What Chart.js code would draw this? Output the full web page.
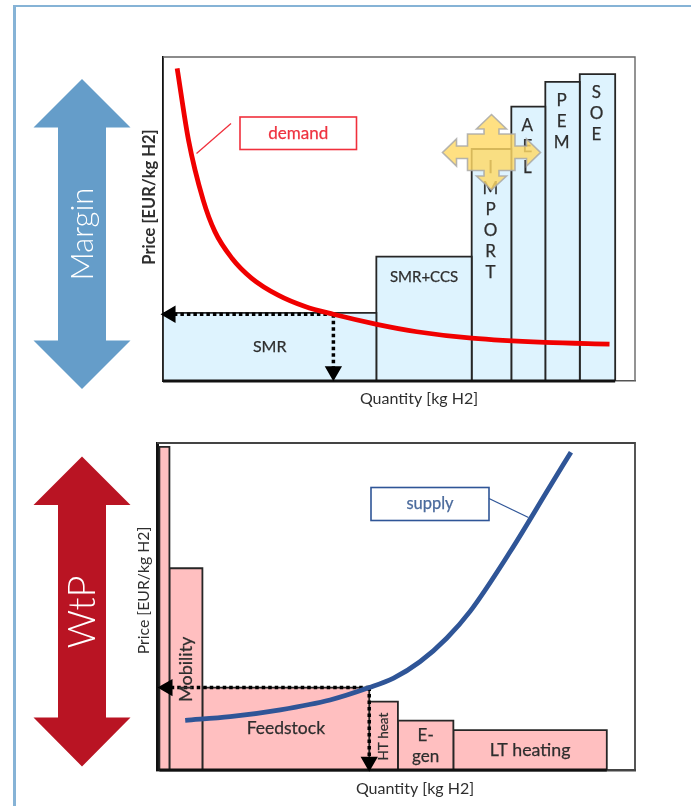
<!DOCTYPE html>
<html><head><meta charset="utf-8">
<script src="https://cdn.jsdelivr.net/npm/chart.js@4/dist/chart.umd.min.js"></script>
<style>
html,body{margin:0;padding:0;background:#fff;overflow:hidden;width:691px;height:806px}
#frame{position:absolute;left:13px;top:5px;width:700px;height:820px;border-left:3px solid #86b3d6;border-top:2px solid #86b3d6}
canvas{position:absolute;left:0;top:0}
</style></head><body>
<div id="frame"></div>
<canvas id="top" width="691" height="806"></canvas>
<canvas id="bottom" width="691" height="806"></canvas>
<script>
// ---- Merit order (top panel)
const supplyNames = ['SMR','SMR+CCS','IMPORT','AEL','PEM','SOE'];
const supplyEdges = [0, 45.2, 65.4, 73.8, 81, 88.3, 95.8];
const supplyPrices = [21, 38.4, 71.6, 84.7, 92.3, 94.7];
const demandQty = [3, 5.4, 8.5, 11, 14.6, 18.8, 24.4, 30.1, 36.1, 45.3, 53.8, 65.4, 80.9, 94.6];
const demandPrice = [96.5, 74.4, 55.9, 46.1, 37.9, 31.7, 26.5, 23, 20.6, 17.5, 15.2, 13.2, 11.9, 11.4];
const topEquilibrium = [36.1, 20.6];
// ---- Willingness to pay (bottom panel)
const useNames = ['', 'Mobility', 'Feedstock', 'HT heat', 'E-gen', 'LT heating'];
const useEdges = [0.5, 2.6, 9.5, 44.4, 50.4, 62, 94.1];
const usePrices = [98.8, 61.7, 25.2, 20.9, 15.1, 12.2];
const supplyQty = [5.9, 15.3, 25.8, 36.2, 44.4, 49.5, 55, 60.6, 65.5, 73.9, 82.2, 86.6];
const supplyPrice = [15.2, 16.3, 18.4, 21.4, 25.2, 28.1, 33.1, 40.3, 48.5, 66.8, 86.7, 97.2];
const bottomEquilibrium = [44.4, 25.2];
const priceTitle = 'Price [EUR/kg H2]';
const quantityTitle = 'Quantity [kg H2]';

const FONT = 'Lato, Carlito, "Open Sans", sans-serif';
const TEXT = '#2e2e2e';

function blockDatasets(edges, prices, fill) {
  return prices.map((p, i) => ({
    data: [{x: edges[i], y: 0}, {x: edges[i], y: p}, {x: edges[i + 1], y: p}, {x: edges[i + 1], y: 0}],
    borderColor: '#262626', borderWidth: 1.8, backgroundColor: fill, fill: 'origin',
    pointRadius: 0, tension: 0, order: 5, clip: false
  }));
}
function baseline(edges) {
  return {
    data: [{x: edges[0], y: 0}, {x: edges[edges.length - 1], y: 0}],
    borderColor: '#111', borderWidth: 3, fill: false, pointRadius: 0, tension: 0, order: 4, clip: false
  };
}
function curve(xs, ys, color) {
  return {
    data: xs.map((x, i) => ({x, y: ys[i]})),
    borderColor: color, borderWidth: 4.8, fill: false, pointRadius: 0,
    cubicInterpolationMode: 'monotone', order: 1, clip: false, borderCapStyle: 'butt'
  };
}
function dashed(from, to, rotation) {
  return {
    data: [{x: from[0], y: from[1]}, {x: to[0], y: to[1]}],
    borderColor: '#000', borderWidth: 3.5, borderDash: [3.5, 3], fill: false, tension: 0,
    pointRadius: [0, 6.5], pointStyle: 'triangle', pointRotation: [0, rotation],
    pointBackgroundColor: '#000', pointBorderColor: '#000', order: 2, clip: false
  };
}
function poly(ctx, pts) {
  ctx.beginPath();
  pts.forEach((p, i) => i ? ctx.lineTo(p[0], p[1]) : ctx.moveTo(p[0], p[1]));
  ctx.closePath();
}
function bigArrow(ctx, c, tip1, base1, base2, tip2, color, label, ty, size) {
  ctx.save();
  ctx.fillStyle = color;
  poly(ctx, [[c, tip1], [c + 48.5, base1], [c + 24, base1], [c + 24, base2], [c + 48.5, base2], [c, tip2],
             [c - 48.5, base2], [c - 24, base2], [c - 24, base1], [c - 48.5, base1]]);
  ctx.fill();
  ctx.translate(c + 1, ty);
  ctx.rotate(-Math.PI / 2);
  ctx.fillStyle = '#fff';
  ctx.font = '300 ' + size + 'px ' + FONT;
  ctx.textAlign = 'center';
  ctx.textBaseline = 'middle';
  ctx.fillText(label, 0, 0);
  ctx.restore();
}
function text(ctx, str, x, y, size, color, rot) {
  ctx.save();
  ctx.translate(x, y);
  if (rot) ctx.rotate(rot);
  ctx.font = size + 'px ' + FONT;
  ctx.fillStyle = color || TEXT;
  ctx.strokeStyle = color || TEXT;
  ctx.lineWidth = 0.25;
  ctx.textAlign = 'center';
  ctx.textBaseline = 'middle';
  ctx.fillText(str, 0, 0);
  ctx.strokeText(str, 0, 0);
  ctx.restore();
}
function callout(ctx, box, link, color, label, textColor, size) {
  ctx.save();
  ctx.strokeStyle = color;
  ctx.lineWidth = 1.6;
  ctx.strokeRect(box[0], box[1], box[2] - box[0], box[3] - box[1]);
  ctx.lineWidth = 1.3;
  ctx.beginPath(); ctx.moveTo(link[0], link[1]); ctx.lineTo(link[2], link[3]); ctx.stroke();
  ctx.restore();
  text(ctx, label, (box[0] + box[2]) / 2, (box[1] + box[3]) / 2, size, textColor);
}
// Shifts the real axis titles along their axis: they are off-centre in the original.
function shiftTitles(dx, dy) {
  return {
    id: 'shiftTitles',
    afterLayout(chart) {
      [['x', dx, 0], ['y', 0, dy]].forEach(([id, tx, ty]) => {
        const s = chart.scales[id];
        if (s._shifted) return;
        s._shifted = true;
        const draw = s.drawTitle;
        s.drawTitle = function () {
          this.ctx.save(); this.ctx.translate(tx, ty); draw.call(this); this.ctx.restore();
        };
      });
    }
  };
}
function options(cfg) {
  return {
    responsive: false, animation: false, events: [],
    layout: {padding: cfg.padding},
    plugins: {legend: {display: false}, tooltip: {enabled: false}, title: {display: false}},
    scales: {
      x: {type: 'linear', min: 0, max: 100, grid: {display: false}, ticks: {display: false},
          border: {display: true, color: cfg.frame, width: cfg.frameWidth},
          title: {display: true, text: quantityTitle, font: cfg.xFont, color: TEXT, padding: {top: 0, bottom: cfg.xTitlePad}},
          afterFit: s => { s.height = cfg.xHeight; }},
      y: {type: 'linear', min: 0, max: 100, grid: {display: false}, ticks: {display: false},
          border: {display: true, color: '#111', width: cfg.yBorder},
          title: {display: true, text: priceTitle, font: cfg.yFont, color: TEXT, padding: {top: cfg.yTitlePad, bottom: 0}},
          afterFit: s => { s.width = cfg.yWidth; }}
    }
  };
}
function frame(chart, color, width) {
  const a = chart.chartArea, ctx = chart.ctx;
  ctx.save();
  ctx.strokeStyle = color;
  ctx.lineWidth = width;
  ctx.beginPath();
  ctx.moveTo(a.left, a.top); ctx.lineTo(a.right, a.top); ctx.lineTo(a.right, a.bottom);
  ctx.stroke();
  ctx.restore();
}
function centre(edges, i) { return (edges[i] + edges[i + 1]) / 2; }

const topOverlay = {
  id: 'topOverlay',
  afterDatasetsDraw(chart) {
    const ctx = chart.ctx, X = chart.scales.x, Y = chart.scales.y;
    frame(chart, '#666', 1.4);
    text(ctx, supplyNames[0], X.getPixelForValue(centre(supplyEdges, 0)), Y.getPixelForValue(10.4), 16);
    text(ctx, supplyNames[1], X.getPixelForValue(centre(supplyEdges, 1)), Y.getPixelForValue(32.2), 15);
    const starts = {2: 66, 3: 79, 4: 86.7, 5: 88.9};
    Object.keys(starts).forEach(k => {
      const i = +k, px = X.getPixelForValue(centre(supplyEdges, i)) - 1, y0 = Y.getPixelForValue(starts[k]);
      [...supplyNames[i]].forEach((ch, n) => text(ctx, ch, px, y0 + n * 21, 17));
    });
    callout(ctx, [240, 117, 356.5, 149.5], [231, 123.5, 196.5, 153.5], '#f0303c', 'demand', '#ee3340', 17);
    ctx.save();
    ctx.globalAlpha = 0.82;
    ctx.fillStyle = '#ffd966';
    ctx.strokeStyle = '#a6a6a6';
    ctx.lineWidth = 1.6;
    poly(ctx, [[491.5,114.5],[506.5,129],[499,129],[499,134],[515,134],[515,146],[526.5,146],[526.5,139],[540.5,152.5],
      [526.5,166],[526.5,158.5],[515,158.5],[515,170.5],[499,170.5],[499,176],[506.5,176],[491.5,190],
      [476.5,176],[484,176],[484,170.5],[467.5,170.5],[467.5,158.5],[456.5,158.5],[456.5,166],[442.5,152.5],
      [456.5,139],[456.5,146],[467.5,146],[467.5,134],[484,134],[484,129],[476.5,129]]);
    ctx.fill();
    ctx.stroke();
    ctx.restore();
    bigArrow(ctx, 82, 79, 127.5, 340.5, 389, '#659dc9', 'Margin', 234, 31);
  }
};
const bottomOverlay = {
  id: 'bottomOverlay',
  afterDatasetsDraw(chart) {
    const ctx = chart.ctx, X = chart.scales.x, Y = chart.scales.y;
    frame(chart, '#444', 1.8);
    text(ctx, useNames[1], X.getPixelForValue(centre(useEdges, 1)), Y.getPixelForValue(30.8), 18, TEXT, -Math.PI / 2);
    text(ctx, useNames[2], X.getPixelForValue(centre(useEdges, 2)), Y.getPixelForValue(12.8), 17.5);
    text(ctx, useNames[3], X.getPixelForValue(centre(useEdges, 3)), Y.getPixelForValue(10.2), 13.5, TEXT, -Math.PI / 2);
    text(ctx, 'E-', X.getPixelForValue(centre(useEdges, 4)), Y.getPixelForValue(10.5), 17);
    text(ctx, 'gen', X.getPixelForValue(centre(useEdges, 4)), Y.getPixelForValue(4.1), 17);
    text(ctx, useNames[5], X.getPixelForValue(centre(useEdges, 5)), Y.getPixelForValue(6.1), 17.8);
    callout(ctx, [371, 487.5, 489, 520.5], [489, 498.5, 528.5, 517.5], '#2f5597', 'supply', '#4a6a9c', 16.5);
    bigArrow(ctx, 82, 456.5, 505, 717.5, 766.5, '#b91423', 'WtP', 612, 38);
  }
};

new Chart(document.getElementById('top'), {
  type: 'line',
  data: {datasets: [
    curve(demandQty, demandPrice, '#f00000'),
    dashed(topEquilibrium, [1.6, topEquilibrium[1]], -90),
    dashed(topEquilibrium, [topEquilibrium[0], 3], 180),
    baseline(supplyEdges),
    ...blockDatasets(supplyEdges, supplyPrices, '#def3fe')
  ]},
  options: options({padding: {top: 57, right: 56, bottom: 396, left: 0}, xHeight: 29, yWidth: 163, yBorder: 1.8,
    xTitlePad: 1.6, yTitlePad: 140, frame: '#555', frameWidth: 1.6,
    xFont: {family: FONT, size: 16}, yFont: {family: FONT, size: 16.5, weight: 'bold'}}),
  plugins: [topOverlay, shiftTitles(20, -22)]
});
new Chart(document.getElementById('bottom'), {
  type: 'line',
  data: {datasets: [
    curve(supplyQty, supplyPrice, '#2f5597'),
    dashed(bottomEquilibrium, [2.2, bottomEquilibrium[1]], -90),
    dashed(bottomEquilibrium, [bottomEquilibrium[0], 2.5], 180),
    baseline(useEdges),
    ...blockDatasets(useEdges, usePrices, '#ffbfc0')
  ]},
  options: options({padding: {top: 443, right: 56, bottom: 0, left: 0}, xHeight: 36, yWidth: 157, yBorder: 3,
    xTitlePad: 7.3, yTitlePad: 134.6, frame: '#444', frameWidth: 2.4,
    xFont: {family: FONT, size: 16}, yFont: {family: FONT, size: 15.8}}),
  plugins: [bottomOverlay, shiftTitles(19, -16)]
});
</script>
</body></html>
